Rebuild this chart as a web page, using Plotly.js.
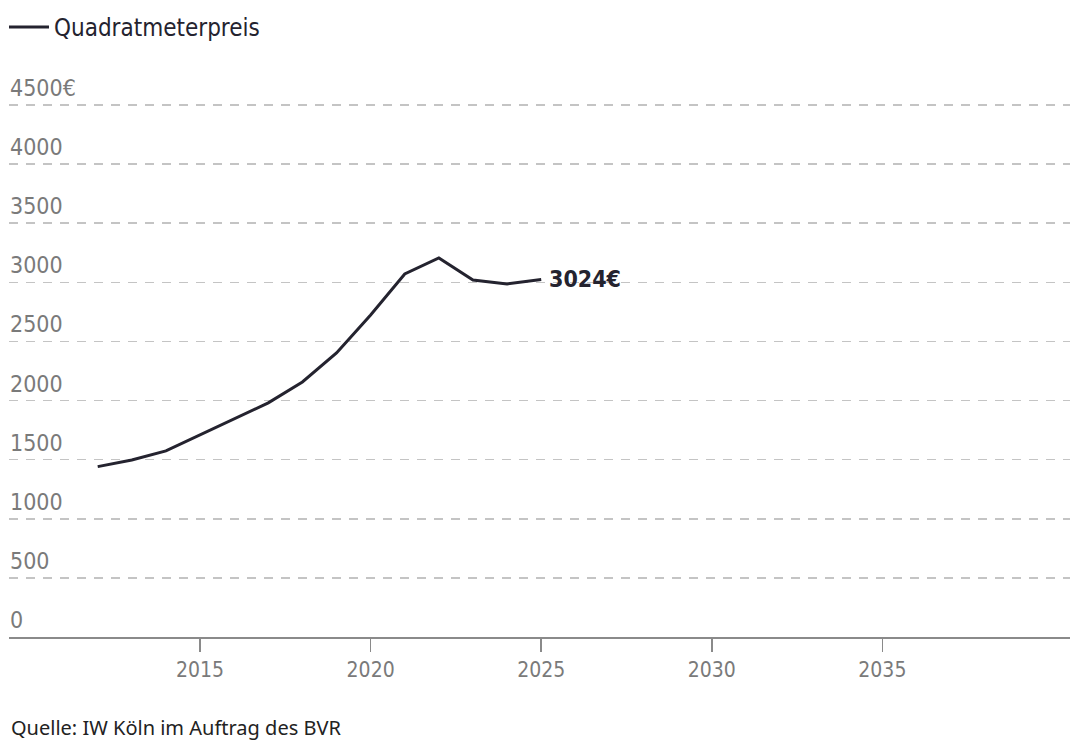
<!DOCTYPE html>
<html>
<head>
<meta charset="utf-8">
<script src="https://cdn.plot.ly/plotly-3.0.1.min.js"></script>
<style>
html,body{margin:0;padding:0;background:#fff;}
#chart{width:1080px;height:751px;}
</style>
</head>
<body>
<div id="chart"></div>
<script>
// Data
var years = [2012, 2013, 2014, 2015, 2016, 2017, 2018, 2019, 2020, 2021, 2022, 2023, 2024, 2025];
var prices = [1441, 1497, 1574, 1709, 1844, 1980, 2157, 2403, 2724, 3071, 3206, 3020, 2986, 3024];
var seriesName = 'Quadratmeterpreis';
var yTickVals = [0, 500, 1000, 1500, 2000, 2500, 3000, 3500, 4000, 4500];
var yTickText = ['0', '500', '1000', '1500', '2000', '2500', '3000', '3500', '4000', '4500€'];
var xTickVals = [2015, 2020, 2025, 2030, 2035];
var xTickText = ['2015', '2020', '2025', '2030', '2035'];
var lastLabel = '3024€';
var sourceText = 'Quelle: IW Köln im Auftrag des BVR';

var condensed = '"Liberation Sans Narrow", "DejaVu Sans Condensed", "Roboto", sans-serif';
var lineColor = '#24232f';

var trace = {
  x: years,
  y: prices,
  type: 'scatter',
  mode: 'lines',
  name: seriesName,
  line: {color: lineColor, width: 3},
  hoverinfo: 'skip'
};

var layout = {
  width: 1080,
  height: 751,
  margin: {l: 9, r: 10, t: 100, b: 114, autoexpand: false},
  paper_bgcolor: '#ffffff',
  plot_bgcolor: '#ffffff',
  showlegend: true,
  legend: {
    x: 4 / 1080, xanchor: 'left', xref: 'container',
    y: 1 - 5 / 751, yanchor: 'top', yref: 'container',
    itemwidth: 40,
    font: {family: condensed, size: 24, color: '#24232f'},
    bgcolor: 'rgba(0,0,0,0)'
  },
  xaxis: {
    range: [2009.4, 2040.5],
    tickvals: xTickVals,
    ticktext: xTickText,
    showgrid: false,
    zeroline: false,
    showline: true,
    linecolor: '#8a8a8a',
    linewidth: 1.5,
    ticks: 'outside',
    ticklen: 13,
    tickwidth: 1.5,
    tickcolor: '#8a8a8a',
    tickfont: {family: condensed, size: 21, color: '#7a7a7a'},
    automargin: false,
    fixedrange: true
  },
  yaxis: {
    range: [0, 4542],
    tickvals: yTickVals,
    ticktext: yTickText,
    ticklabelposition: 'inside',
    ticklabelshift: -17,
    ticklabelstandoff: -2,
    ticklabeloverflow: 'allow',
    ticks: '',
    showgrid: true,
    gridcolor: '#c4c4c4',
    gridwidth: 1.5,
    griddash: '9px,8px',
    zeroline: false,
    showline: false,
    tickfont: {family: condensed, size: 23, color: '#7a7a7a'},
    automargin: false,
    fixedrange: true
  },
  annotations: [
    {
      x: years[years.length - 1],
      y: prices[prices.length - 1],
      xref: 'x', yref: 'y',
      text: '<b>' + lastLabel + '</b>',
      showarrow: false,
      xanchor: 'left',
      yanchor: 'middle',
      xshift: 6,
      font: {family: condensed, size: 23, color: lineColor}
    },
    {
      x: 0, xref: 'paper', xanchor: 'left',
      y: -0.169, yref: 'paper', yanchor: 'middle',
      text: sourceText,
      showarrow: false,
      font: {family: '"Noto Sans", sans-serif', size: 20, color: '#222222'}
    }
  ]
};

Plotly.newPlot('chart', [trace], layout, {displayModeBar: false, staticPlot: true});
</script>
</body>
</html>
